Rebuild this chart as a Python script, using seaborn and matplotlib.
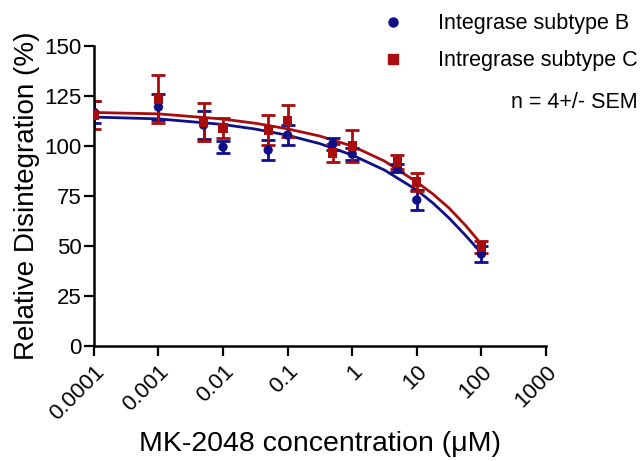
import matplotlib
matplotlib.use("Agg")
import matplotlib.pyplot as plt
from matplotlib.lines import Line2D
import seaborn as sns
import pandas as pd

sns.set_theme(style="ticks")
plt.rcParams['font.family'] = ['Liberation Sans', 'DejaVu Sans']
for k in ["text.color", "axes.labelcolor", "xtick.color", "ytick.color"]:
    plt.rcParams[k] = "black"

# measured points (mean +/- SEM)
conc = [0.0001, 0.001, 0.005, 0.01, 0.05, 0.1, 0.5, 1, 5, 10, 100]
b_mean = [117, 119.5, 110.5, 99.5, 98, 105.5, 101, 96, 89, 73, 46]
b_sem = [5.5, 6.5, 7, 3, 5, 5, 3, 3, 2, 5, 4]
c_mean = [115.5, 123.5, 112, 109, 108, 112.5, 96.5, 100, 92, 82, 49.5]
c_sem = [7, 12, 9.5, 5, 7.5, 8, 4.5, 8, 3.5, 4.5, 3]

# fitted curves
fit_x = [0.0001, 0.001, 0.01, 0.0316, 0.1, 0.316, 1, 3.16, 10, 17.8, 31.6, 56.2, 100]
b_fit = [114.5, 113.6, 110.8, 108.5, 105.4, 101.2, 95.5, 88, 78, 71.5, 64, 55.5, 46.5]
c_fit = [116.8, 116.1, 113.5, 111.4, 108.6, 105, 100, 92.5, 82, 76, 69, 60.5, 51]

labels = ["Integrase subtype B", "Intregrase subtype C"]
colors = ["#0f0f8a", "#a80c0c"]
markers = ["o", "s"]

pts = pd.DataFrame({"conc": conc * 2,
                    "val": b_mean + c_mean,
                    "err": b_sem + c_sem,
                    "grp": [labels[0]] * len(conc) + [labels[1]] * len(conc)})
fits = pd.DataFrame({"conc": fit_x * 2,
                     "val": b_fit + c_fit,
                     "grp": [labels[0]] * len(fit_x) + [labels[1]] * len(fit_x)})

fig = plt.figure(figsize=(6.43, 4.61), dpi=100)
ax = fig.add_axes([0.146, 0.2495, 0.703, 0.6505])

sns.lineplot(data=fits, x="conc", y="val", hue="grp", palette=colors,
             hue_order=labels, lw=2, legend=False, ax=ax)
for lab, col, mk in zip(labels, colors, markers):
    d = pts[pts.grp == lab]
    ax.errorbar(d["conc"], d["val"], yerr=d["err"], fmt="none", ecolor=col,
                elinewidth=2, capsize=5, capthick=2)
sns.scatterplot(data=pts, x="conc", y="val", hue="grp", style="grp",
                palette=colors, markers=markers, hue_order=labels,
                style_order=labels, s=45, edgecolor="none", legend=False,
                ax=ax, zorder=3)

ax.set_xscale("log")
ax.set_xlim(0.0001, 1000)
ax.set_ylim(0, 150)
ax.set_xticks([0.0001, 0.001, 0.01, 0.1, 1, 10, 100, 1000])
ax.set_xticklabels(["0.0001", "0.001", "0.01", "0.1", "1", "10", "100", "1000"],
                   rotation=45, ha="right", rotation_mode="anchor")
ax.minorticks_off()
ax.set_yticks(range(0, 151, 25))
ax.tick_params(axis="both", labelsize=16, width=1.6, length=7, direction="out")
ax.tick_params(axis="x", pad=4)
ax.tick_params(axis="y", pad=2)
for s in ["left", "bottom"]:
    ax.spines[s].set_linewidth(1.8)
    ax.spines[s].set_color("black")
sns.despine(ax=ax)
ax.set_xlabel("MK-2048 concentration (\u03bcM)", fontsize=20.5, labelpad=5)
ax.set_ylabel("Relative Disintegration (%)", fontsize=20, labelpad=3)

handles = [Line2D([], [], ls="none", marker=m, color=c, markersize=6.5)
           for m, c in zip(markers, colors)]
fig.legend(handles, labels, loc="upper left", bbox_to_anchor=(0.578, 0.971),
           frameon=False, fontsize=15.5, handletextpad=1.1, labelspacing=0.73,
           borderaxespad=0, borderpad=0)
fig.text(0.992, 0.777, "n = 4+/- SEM", ha="right", va="center", fontsize=15.5)

fig.savefig("out.png", dpi=100)
